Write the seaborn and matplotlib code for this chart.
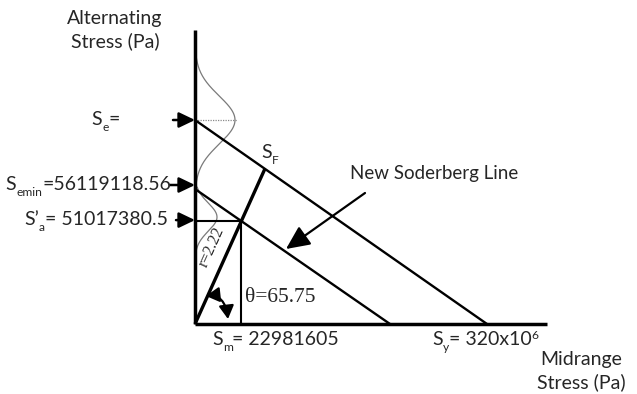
import numpy as np
import pandas as pd
import matplotlib
matplotlib.use("Agg")
import matplotlib.pyplot as plt
import seaborn as sns
from matplotlib.patches import FancyArrowPatch
from matplotlib.path import Path

# ---- values printed on the diagram ----
se_label = ""
semin_value = "56119118.56"
sa_value = "51017380.5"
sm_value = "22981605"
sy_value = "320x10"
sy_exponent = "6"
theta_deg = 65.75          # load-line angle
ratio_r = 2.22             # load-line ratio Sa/Sm

# ---- schematic geometry (diagram units, origin at the axes corner) ----
axis_len_x = 352
axis_len_y = 294
se_height = 204            # endurance-limit intercept
sy_width = 292             # yield-strength intercept
semin_height = 135         # reduced endurance intercept
semin_width = 195          # new Soderberg intercept on the mean axis

sns.set_theme(style="white")
plt.rcParams["font.family"] = ["Lato", "DejaVu Sans"]

fig = plt.figure(figsize=(6.37, 3.94), dpi=100)
ax = fig.add_axes([0, 0, 1, 1])
ax.set_xlim(-195, 442)
ax.set_ylim(-70, 324)
ax.axis("off")
renderer = fig.canvas.get_renderer()

FS = 14


def rich(x, y, parts, ha="left", size=FS):
    """Draw a label made of normal / subscript / superscript pieces.
    One diagram unit is one pixel, so measured widths add directly."""
    made = []
    for txt, kind in parts:
        s = size if kind == "n" else size * 0.62
        dy = {"n": 0, "sub": -6, "sup": 6}[kind]
        t = ax.text(0, 0, txt, fontsize=s, va="baseline", ha="left")
        w = t.get_window_extent(renderer).width
        made.append((t, w, dy))
    total = sum(w for _, w, _ in made)
    cx = x - total if ha == "right" else x
    for t, w, dy in made:
        t.set_position((cx, y + dy))
        cx += w


# load line through the operating point on the reduced Soderberg line
slope = np.tan(np.radians(theta_deg))
op_x = semin_height / (slope + semin_height / semin_width)
op_y = slope * op_x
sf_x = se_height / (slope + se_height / sy_width)
sf_y = slope * sf_x

# probability curves of the endurance strength
g1 = np.linspace(se_height - 66, se_height + 62, 200)
curve1 = pd.DataFrame({"x": 40 * np.exp(-((g1 - se_height) ** 2) / (2 * 24 ** 2)), "y": g1})
g2 = np.linspace(op_y - 30, op_y + 34, 150)
curve2 = pd.DataFrame({"x": 22 * np.exp(-((g2 - op_y - 4) ** 2) / (2 * 14 ** 2)), "y": g2})
for c in (curve1, curve2):
    sns.lineplot(data=c, x="x", y="y", sort=False, orient="y", ax=ax,
                 color="#7a7a7a", lw=0.9, estimator=None)
ax.plot([0, 42], [se_height, se_height], color="#8a8a8a", lw=0.9, ls=(0, (1, 1)))

# Soderberg lines
lines = pd.DataFrame({
    "x": [0, sy_width, 0, semin_width],
    "y": [se_height, 0, semin_height, 0],
    "line": ["Soderberg", "Soderberg", "New Soderberg", "New Soderberg"],
})
sns.lineplot(data=lines, x="x", y="y", units="line", estimator=None, sort=False,
             color="black", lw=1.7, ax=ax)

# operating point projections
ax.plot([0, op_x, op_x], [op_y, op_y, 0], color="black", lw=1.5)
# load line
ax.plot([0, sf_x], [0, sf_y], color="black", lw=2.4, solid_capstyle="butt")

# axes
ax.plot([0, 0], [0, axis_len_y], color="black", lw=2.5, solid_capstyle="butt")
ax.plot([0, axis_len_x], [0, 0], color="black", lw=2.5, solid_capstyle="butt")

# arrows pointing at the stress axis
for yv, x0 in [(se_height, -22), (semin_height + 4, -25), (op_y + 1, -19)]:
    ax.annotate("", xy=(0, yv), xytext=(x0, yv),
                arrowprops=dict(arrowstyle="-|>,head_length=0.75,head_width=0.36",
                                color="black", lw=1.8,
                                mutation_scale=13, shrinkA=0, shrinkB=0))

# arrow to the new Soderberg line
ax.annotate("", xy=(91, 75), xytext=(170, 131),
            arrowprops=dict(arrowstyle="-|>,head_length=0.6,head_width=0.28",
                            color="black", lw=1.6,
                            mutation_scale=24, shrinkA=0, shrinkB=0))

# angle marker: curved double-headed arrow between load line and mean axis
arc_path = Path([(11, 28), (30, 30), (33, 5)], [Path.MOVETO, Path.CURVE3, Path.CURVE3])
arc = FancyArrowPatch(path=arc_path, arrowstyle="<|-|>,head_length=0.8,head_width=0.45",
                      mutation_scale=10, color="black", lw=1.6, transform=ax.transData)
ax.add_patch(arc)

ax.text(-80, 294, "Alternating\nStress (Pa)", ha="center", va="center",
        fontsize=FS, linespacing=1.3)
ax.text(386, -47, "Midrange\nStress (Pa)", ha="center", va="center",
        fontsize=FS, linespacing=1.3)
rich(-75, 199, [("S", "n"), ("e", "sub"), ("=" + se_label, "n")], ha="right")
rich(-24, 134, [("S", "n"), ("emin", "sub"), ("=" + semin_value, "n")], ha="right")
rich(-27, 99, [("S\u2019", "n"), ("a", "sub"), ("= " + sa_value, "n")], ha="right")
rich(66, 166, [("S", "n"), ("F", "sub")])
ax.text(155, 145, "New Soderberg Line", ha="left", va="baseline", fontsize=FS - 0.5)
rich(17, -21, [("S", "n"), ("m", "sub"), ("= " + sm_value, "n")])
rich(237, -21, [("S", "n"), ("y", "sub"), ("= " + sy_value, "n"), (sy_exponent, "sup")])
ax.text(50, 22, "θ=" + f"{theta_deg:g}", ha="left", va="baseline", fontsize=15.5,
        family=["Liberation Serif", "DejaVu Serif"])
ax.text(17, 77, f"r={ratio_r:g}", ha="center", va="center", fontsize=11.5,
        rotation=theta_deg, rotation_mode="anchor",
        family=["Liberation Serif", "DejaVu Serif"])

fig.savefig("out.png", dpi=100)
